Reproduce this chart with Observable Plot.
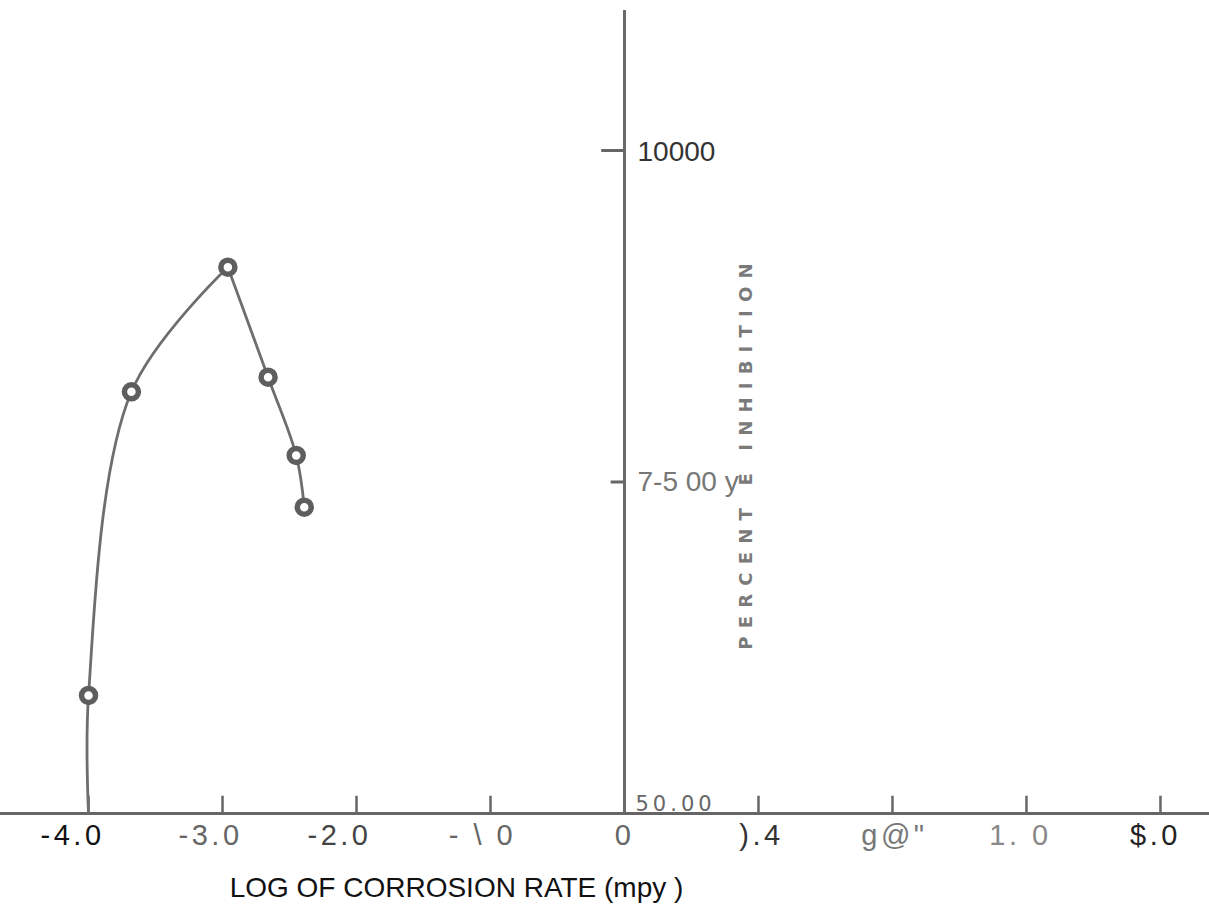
<!DOCTYPE html>
<html><head><meta charset="utf-8">
<script src="https://cdn.jsdelivr.net/npm/d3@7"></script>
<script src="https://cdn.jsdelivr.net/npm/@observablehq/plot@0.6"></script>
<style>
html,body{margin:0;padding:0;background:#fff}
g[aria-description="x-tick-labels"] text{letter-spacing:3.5px}
g[aria-description="y-title"] text{letter-spacing:8.2px}
g[aria-description="y-label-50"] text{letter-spacing:4px}
</style>
</head><body><div id="chart"></div>
<script>
// ---- data ----
const logRate    = [-4.0, -3.68, -2.96, -2.66, -2.45, -2.39];
const inhibition = [58.9, 81.8, 91.2, 82.9, 77.0, 73.1];
const curveStart = {x: -4.0, y: 50.0};       // curve meets the x axis here
const peakIndex  = 2;
const xTicks      = [-4, -3, -2, -1, 0, 1, 2, 3, 4];
const xTickLabels = ["-4.0", "-3.0", "-2.0", "- \\ 0", "0", ").4", "g@\"", "1. 0", "$.0"];
const yTicks      = [100, 75, 50];
const yTickLabels = ["10000", "7-5 00 y", "50.00"];
const xTitle = "LOG OF CORROSION RATE (mpy )";
const yTitle = "PERCENT E INHIBITION";

// ---- styles ----
const xLabelColors = ["#111", "#666", "#444", "#666", "#666", "#333", "#777", "#888", "#222"];
const xLabelNudge  = [-16, -12, -17, -8, 0, 3, 2, -6, -5];
const lineColor = "#6e6e6e";

const points = logRate.map((x, i) => ({x, y: inhibition[i]}));
const rise = [curveStart, ...points.slice(0, peakIndex + 1)];
const fall = points.slice(peakIndex);
const xLab = xTicks.map((v, i) => ({v, label: xTickLabels[i], color: xLabelColors[i], dx: xLabelNudge[i]}));

const chart = Plot.plot({
  width: 1209, height: 909, margin: 0,
  x: {domain: [-4.657, 4.366], axis: null},
  y: {domain: [42.76, 111.31], axis: null},
  style: {fontFamily: "Liberation Sans, Arial, sans-serif", background: "#fff"},
  marks: [
    // axes
    Plot.ruleY([50], {stroke: "#666", strokeWidth: 3}),
    Plot.ruleX([0], {y1: 50, y2: 110.56, stroke: "#6a6a6a", strokeWidth: 3}),
    Plot.ruleX(xTicks.filter(d => d !== 0), {x: d => d, y1: 50, y2: 51.3, stroke: "#666", strokeWidth: 2.5}),
    Plot.ruleY(yTicks.filter(d => d !== 50), {y: d => d, x1: d => d === 100 ? -0.17 : -0.1, x2: 0, stroke: "#666", strokeWidth: 3}),
    // curve
    Plot.line(rise, {x: "x", y: "y", curve: "catmull-rom", stroke: lineColor, strokeWidth: 2.8}),
    Plot.line(fall, {x: "x", y: "y", curve: "catmull-rom", stroke: lineColor, strokeWidth: 2.8}),
    Plot.dot(points, {x: "x", y: "y", r: 7, fill: "white", stroke: "#5e5e5e", strokeWidth: 5.5}),
    // x tick labels
    ...xLab.map(d => Plot.text([d], {x: "v", y: () => 50, text: "label", dy: 22, dx: d.dx, fontSize: 29, fill: d.color, ariaDescription: "x-tick-labels"})),
    // y tick labels
    Plot.text([yTickLabels[0]], {x: () => 0, y: () => yTicks[0], text: d => d, textAnchor: "start", dx: 13, dy: 2, fontSize: 28, fill: "#333"}),
    Plot.text([yTickLabels[1]], {x: () => 0, y: () => yTicks[1], text: d => d, textAnchor: "start", dx: 13, dy: 0, fontSize: 28, fill: "#777"}),
    Plot.text([yTickLabels[2]], {x: () => 0, y: () => yTicks[2], text: d => d, textAnchor: "start", dx: 11, dy: -9, fontSize: 21, fill: "#666", fontFamily: "DejaVu Sans", ariaDescription: "y-label-50"}),
    // titles
    Plot.text([xTitle], {frameAnchor: "top-left", dx: 456, dy: 888, text: d => d, textAnchor: "middle", lineAnchor: "middle", fontSize: 28, fill: "#111"}),
    Plot.text([yTitle], {frameAnchor: "top-left", dx: 746, dy: 452, text: d => d, rotate: -90, textAnchor: "middle", lineAnchor: "middle", fontSize: 18, fontWeight: "bold", fontFamily: "DejaVu Sans", fill: "#7a7a7a", ariaDescription: "y-title"})
  ]
});
document.getElementById("chart").append(chart);
</script>
</body></html>
